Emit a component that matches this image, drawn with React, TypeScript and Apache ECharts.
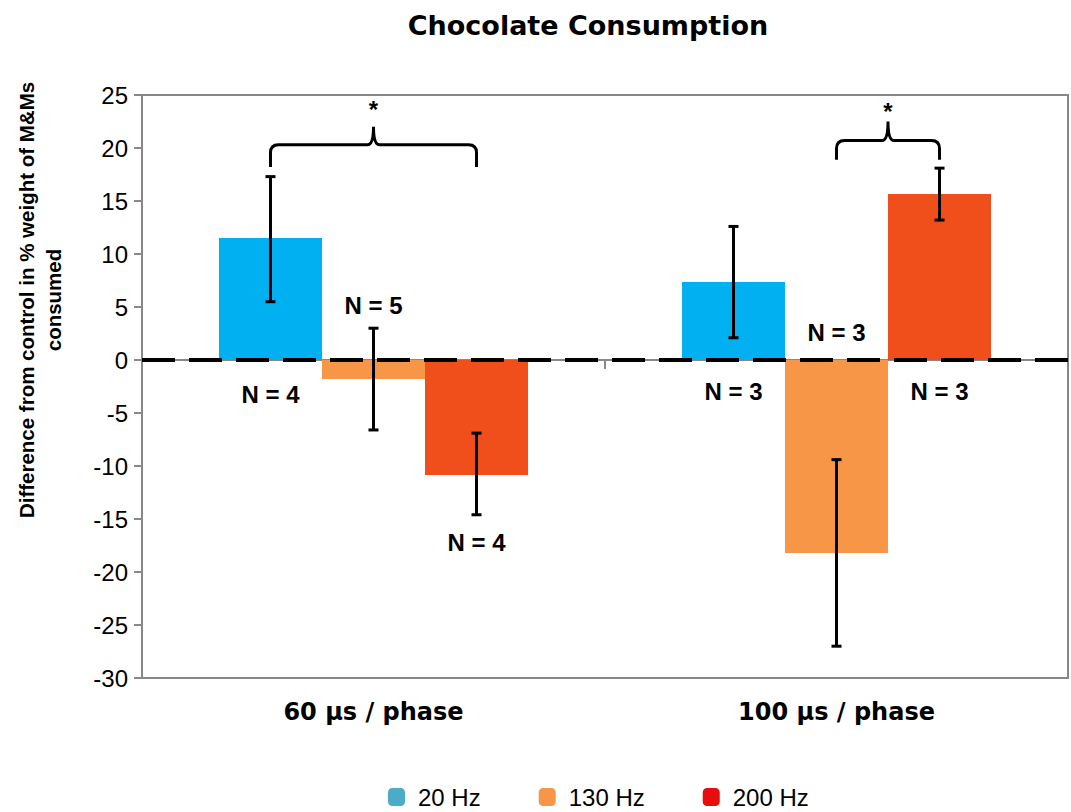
import React, { useEffect, useRef } from 'react';
import * as echarts from 'echarts';

const categories = ['60 µs / phase', '100 µs / phase'];
const seriesNames = ['20 Hz', '130 Hz', '200 Hz'];
const hz20 = [11.5, 7.35];
const hz130 = [-1.8, -18.2];
const hz200 = [-10.85, 15.65];

const errCategory = [0, 0, 0, 1, 1, 1];
const errPosition = [-1, 0, 1, -1, 0, 1];
const errLow = [5.5, -6.6, -14.6, 2.1, -27.0, 13.2];
const errHigh = [17.3, 3.0, -6.9, 12.6, -9.4, 18.1];

const nCategory = [0, 0, 0, 1, 1, 1];
const nPosition = [-1, 0, 1, -1, 0, 1];
const nY = [-3.3, 5.1, -17.2, -3.0, 2.6, -3.0];
const nText = ['N = 4', 'N = 5', 'N = 4', 'N = 3', 'N = 3', 'N = 3'];

const bracketCategory = [0, 1];
const bracketFrom = [-1, 0];
const bracketTo = [1, 1];
const bracketFoot = [18.2, 18.9];
const bracketBar = [20.3, 20.7];
const bracketPeak = [22.0, 22.5];
const bracketStar = [23.6, 23.4];
const bracketText = ['*', '*'];

const yMin = -30;
const yMax = 25;
const yStep = 5;

const BAR_FRACTION = 0.2225;
const barColors = ['#00B0F0', '#F79646', '#F04E1A'];
const legendColors = ['#4BACC6', '#F79646', '#E80E0E'];

export default function App() {
  const ref = useRef<HTMLDivElement>(null);
  useEffect(() => {
    if (!ref.current) return;
    const chart = echarts.init(ref.current, null, { renderer: 'svg' });
    const axisGray = '#888888';

    const errData = errCategory.map((c, i) => [c, errPosition[i], errLow[i], errHigh[i]]);
    const nData = nCategory.map((c, i) => [c, nPosition[i], nY[i]]);
    const brData = bracketCategory.map((c, i) => [c, bracketFrom[i], bracketTo[i], bracketFoot[i], bracketBar[i], bracketPeak[i], bracketStar[i]]);

    const option: any = {
      animation: false,
      title: {
        text: 'Chocolate Consumption',
        left: 583,
        top: 7,
        textAlign: 'center',
        textStyle: { fontFamily: 'DejaVu Sans', fontWeight: 'bold', fontSize: 27, color: '#000' },
      },
      legend: {
        left: 388,
        top: 785,
        padding: 0,
        itemWidth: 17,
        itemHeight: 18,
        itemGap: 58,
        icon: 'roundRect',
        data: seriesNames.map((n, i) => ({ name: n, itemStyle: { color: legendColors[i] } })),
        textStyle: { fontSize: 24, fontFamily: 'Liberation Sans', color: '#000', padding: [0, 0, 0, 8] },
      },
      grid: {
        left: 142,
        right: 3,
        top: 95,
        bottom: 134,
        show: true,
        borderColor: axisGray,
        borderWidth: 2,
        containLabel: false,
      },
      xAxis: [
        {
          type: 'category',
          data: categories,
          position: 'bottom',
          axisLine: { show: false, onZero: false },
          axisTick: { show: false },
          axisLabel: { margin: 22, fontSize: 24, fontWeight: 'bold', fontFamily: 'DejaVu Sans', color: '#000' },
          splitLine: { show: false },
        },
        {
          type: 'category',
          data: categories,
          position: 'bottom',
          axisLine: { show: true, onZero: true, onZeroAxisIndex: 0, lineStyle: { color: axisGray, width: 2 } },
          axisTick: { show: true, length: 9, lineStyle: { color: axisGray, width: 2 } },
          axisLabel: { show: false },
          splitLine: { show: false },
        },
      ],
      yAxis: {
        type: 'value',
        min: yMin,
        max: yMax,
        interval: yStep,
        axisLine: { show: true, lineStyle: { color: axisGray, width: 2 } },
        axisTick: { show: true, length: 8, lineStyle: { color: axisGray, width: 2 } },
        axisLabel: { fontSize: 24, fontFamily: 'Liberation Sans', color: '#000', margin: 14 },
        splitLine: { show: false },
      },
      graphic: [
        {
          type: 'text',
          x: 40,
          y: 300,
          rotation: Math.PI / 2,
          style: {
            text: 'Difference from control in % weight of M&Ms\nconsumed',
            font: 'bold 20.5px "Liberation Sans"',
            fill: '#000',
            align: 'center',
            verticalAlign: 'middle',
            textAlign: 'center',
            textVerticalAlign: 'middle',
            lineHeight: 27,
          },
        },
      ],
      series: [
        {
          name: seriesNames[0],
          type: 'bar',
          data: hz20,
          barWidth: BAR_FRACTION * 100 + '%',
          barGap: '0%',
          itemStyle: { color: barColors[0] },
        },
        {
          name: seriesNames[1],
          type: 'bar',
          data: hz130,
          barWidth: BAR_FRACTION * 100 + '%',
          barGap: '0%',
          itemStyle: { color: barColors[1] },
        },
        {
          name: seriesNames[2],
          type: 'bar',
          data: hz200,
          barWidth: BAR_FRACTION * 100 + '%',
          barGap: '0%',
          itemStyle: { color: barColors[2] },
          markLine: {
            silent: true,
            symbol: ['none', 'none'],
            label: { show: false },
            lineStyle: { color: '#000', width: 4, type: [33, 14], opacity: 1 },
            data: [{ yAxis: 0 }],
          },
        },
        {
          type: 'custom',
          name: 'errors',
          z: 5,
          data: errData,
          encode: { x: 0, y: [2, 3] },
          renderItem: (params: any, api: any) => {
            const cat = api.value(0);
            const band = api.size([1, 0])[0];
            const base = api.coord([cat, api.value(2)]);
            const top = api.coord([cat, api.value(3)]);
            const x = base[0] + api.value(1) * band * BAR_FRACTION;
            const y1 = base[1];
            const y2 = top[1];
            const st = { stroke: '#000', lineWidth: 3 };
            return {
              type: 'group',
              children: [
                { type: 'line', shape: { x1: x, y1: y1, x2: x, y2: y2 }, style: st },
                { type: 'line', shape: { x1: x - 5, y1: y1, x2: x + 5, y2: y1 }, style: st },
                { type: 'line', shape: { x1: x - 5, y1: y2, x2: x + 5, y2: y2 }, style: st },
              ],
            };
          },
        },
        {
          type: 'custom',
          name: 'nlabels',
          z: 6,
          data: nData,
          encode: { x: 0, y: 2 },
          renderItem: (params: any, api: any) => {
            const cat = api.value(0);
            const band = api.size([1, 0])[0];
            const p = api.coord([cat, api.value(2)]);
            const x = p[0] + api.value(1) * band * BAR_FRACTION;
            return {
              type: 'text',
              style: {
                text: nText[params.dataIndex],
                x: x,
                y: p[1],
                font: 'bold 24px "Liberation Sans"',
                fill: '#000',
                align: 'center',
                verticalAlign: 'middle',
                textAlign: 'center',
                textVerticalAlign: 'middle',
              },
            };
          },
        },
        {
          type: 'custom',
          name: 'brackets',
          z: 6,
          data: brData,
          encode: { x: 0, y: [3, 6] },
          renderItem: (params: any, api: any) => {
            const cat = api.value(0);
            const band = api.size([1, 0])[0];
            const c = api.coord([cat, 0])[0];
            const xl = c + api.value(1) * band * BAR_FRACTION;
            const xr = c + api.value(2) * band * BAR_FRACTION;
            const xm = (xl + xr) / 2;
            const yf = api.coord([cat, api.value(3)])[1];
            const yb = api.coord([cat, api.value(4)])[1];
            const yp = api.coord([cat, api.value(5)])[1];
            const ys = api.coord([cat, api.value(6)])[1];
            const r = 8;
            const d =
              `M${xl},${yf} L${xl},${yb + r} Q${xl},${yb} ${xl + r},${yb} ` +
              `L${xm - 6},${yb} Q${xm},${yb} ${xm},${yp} Q${xm},${yb} ${xm + 6},${yb} ` +
              `L${xr - r},${yb} Q${xr},${yb} ${xr},${yb + r} L${xr},${yf}`;
            return {
              type: 'group',
              children: [
                {
                  type: 'path',
                  shape: { pathData: d },
                  style: { stroke: '#000', fill: 'none', lineWidth: 3 },
                },
                {
                  type: 'text',
                  style: {
                    text: bracketText[params.dataIndex],
                    x: xm,
                    y: ys,
                    font: 'bold 24px "Liberation Sans"',
                    fill: '#000',
                    align: 'center',
                    verticalAlign: 'middle',
                    textAlign: 'center',
                    textVerticalAlign: 'middle',
                  },
                },
              ],
            };
          },
        },
      ],
    };
    chart.setOption(option);
    return () => chart.dispose();
  }, []);
  return (
    <div
      ref={ref}
      style={{ position: 'fixed', left: 0, top: 0, width: 1071, height: 812, background: '#fff' }}
    />
  );
}
